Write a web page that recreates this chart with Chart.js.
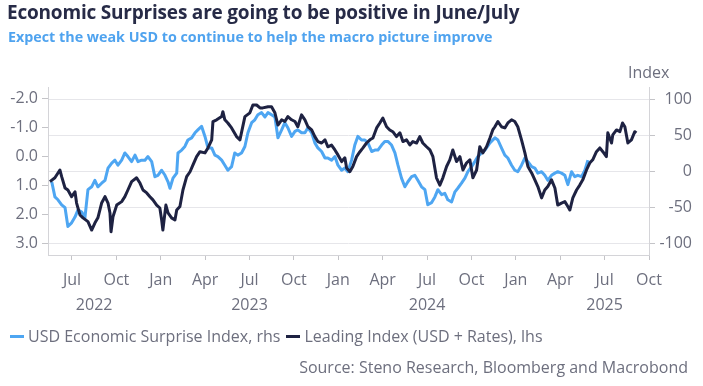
<!DOCTYPE html>
<html>
<head>
<meta charset="utf-8">
<script src="https://cdn.jsdelivr.net/npm/chart.js@4.4.1/dist/chart.umd.min.js"></script>
<style>
  html, body { margin: 0; padding: 0; background: #fff; }
  body { width: 703px; height: 386px; position: relative; overflow: hidden; font-family: "Open Sans", sans-serif; }
  #chart { position: absolute; left: 0; top: 0; }
  .txt { position: absolute; white-space: nowrap; line-height: 1; }
  #title { left: 7px; top: 3px; font-size: 19px; font-weight: 700; color: #272b47; letter-spacing: -0.2px; }
  #subtitle { left: 8px; top: 30px; font-size: 14.3px; font-weight: 700; color: #4fa3ef; }
  #unit { left: 628px; top: 64px; font-size: 16px; color: #6d6f7e; }
  #legend { left: 10px; top: 328px; font-size: 16px; color: #6d6f7e; display: flex; align-items: center; }
  #legend .mk { display: inline-block; width: 14px; height: 3px; margin-right: 4px; }
  #legend .item { display: flex; align-items: center; margin-right: 6px; }
  #source { right: 15px; top: 359px; font-size: 16px; color: #6d6f7e; }
</style>
</head>
<body>
<canvas id="chart" width="703" height="386"></canvas>
<div class="txt" id="title">Economic Surprises are going to be positive in June/July</div>
<div class="txt" id="subtitle">Expect the weak USD to continue to help the macro picture improve</div>
<div class="txt" id="unit">Index</div>
<div class="txt" id="legend"></div>
<div class="txt" id="source">Source: Steno Research, Bloomberg and Macrobond</div>
<script>
// Leading Index (USD + Rates), lhs - x in decimal years
const leadingDates = [
  2022.376, 2022.404, 2022.432, 2022.442, 2022.461, 2022.477, 2022.498, 2022.517, 2022.526, 2022.545,
  2022.562, 2022.590, 2022.611, 2022.629, 2022.646, 2022.667, 2022.686, 2022.703, 2022.714, 2022.720,
  2022.731, 2022.752, 2022.780, 2022.798, 2022.815, 2022.836, 2022.864, 2022.883, 2022.900, 2022.921,
  2022.939, 2022.956, 2022.977, 2022.995, 2023.005, 2023.012, 2023.029, 2023.041, 2023.061, 2023.080,
  2023.090, 2023.108, 2023.125, 2023.146, 2023.165, 2023.181, 2023.202, 2023.221, 2023.249, 2023.266,
  2023.287, 2023.294, 2023.315, 2023.343, 2023.350, 2023.361, 2023.378, 2023.399, 2023.427, 2023.446,
  2023.456, 2023.474, 2023.502, 2023.519, 2023.540, 2023.559, 2023.575, 2023.604, 2023.624, 2023.643,
  2023.660, 2023.681, 2023.699, 2023.716, 2023.737, 2023.756, 2023.772, 2023.793, 2023.812, 2023.829,
  2023.850, 2023.868, 2023.885, 2023.906, 2023.925, 2023.941, 2023.962, 2023.981, 2023.998, 2024.019,
  2024.037, 2024.047, 2024.065, 2024.082, 2024.103, 2024.122, 2024.139, 2024.159, 2024.178, 2024.195,
  2024.216, 2024.234, 2024.251, 2024.272, 2024.290, 2024.307, 2024.328, 2024.347, 2024.364, 2024.384,
  2024.403, 2024.420, 2024.441, 2024.459, 2024.476, 2024.497, 2024.516, 2024.533, 2024.553, 2024.572,
  2024.589, 2024.610, 2024.628, 2024.645, 2024.666, 2024.685, 2024.702, 2024.722, 2024.741, 2024.758,
  2024.779, 2024.797, 2024.814, 2024.835, 2024.854, 2024.870, 2024.882, 2024.899, 2024.919, 2024.938,
  2024.955, 2024.976, 2024.994, 2025.011, 2025.032, 2025.051, 2025.068, 2025.089, 2025.107, 2025.124,
  2025.145, 2025.163, 2025.180, 2025.201, 2025.220, 2025.236, 2025.257, 2025.276, 2025.293, 2025.304,
  2025.321, 2025.342, 2025.360, 2025.377, 2025.398, 2025.416, 2025.433, 2025.454, 2025.473, 2025.490,
  2025.510, 2025.518, 2025.539, 2025.546, 2025.567, 2025.586, 2025.601, 2025.614, 2025.631, 2025.651,
  2025.670, 2025.679
];
const leadingValues = [
  0.86, 0.73, 0.46, 0.69, 1.08, 1.15, 1.38, 1.21, 1.60, 2.01,
  2.11, 2.24, 2.53, 2.29, 2.11, 1.60, 1.38, 1.60, 1.94, 2.59,
  2.07, 1.67, 1.55, 1.38, 1.15, 0.86, 0.73, 0.91, 1.15, 1.25,
  1.38, 1.49, 1.67, 1.77, 2.18, 2.53, 1.67, 1.94, 2.11, 2.18,
  1.84, 1.72, 1.15, 0.69, 0.52, 0.29, 0.00, -0.17, -0.13, -0.30,
  -0.58, -1.21, -1.27, -1.38, -1.55, -1.27, -1.16, -0.99, -0.69, -0.58,
  -0.86, -1.38, -1.51, -1.78, -1.78, -1.68, -1.68, -1.72, -1.72, -1.51,
  -1.09, -1.27, -1.21, -1.38, -1.27, -1.21, -1.03, -1.44, -1.27, -1.03,
  -0.92, -0.69, -0.52, -0.47, -0.58, -0.34, -0.40, -0.23, -0.06, 0.17,
  0.04, 0.39, 0.52, 0.34, 0.00, -0.17, -0.30, -0.47, -0.58, -0.64,
  -0.99, -1.16, -1.33, -1.03, -0.92, -0.86, -0.69, -0.82, -0.52, -0.58,
  -0.40, -0.52, -0.47, -0.69, -0.47, -0.34, -0.23, 0.00, 0.73, 0.98,
  0.73, 0.34, 0.11, -0.23, 0.17, 0.00, 0.46, 0.22, 0.11, 0.73,
  0.46, -0.34, -0.13, -0.34, -0.64, -0.92, -1.03, -1.21, -1.03, -0.99,
  -1.16, -1.27, -1.21, -1.03, -0.58, -0.13, 0.34, 0.56, 0.80, 1.03,
  1.42, 1.15, 1.03, 0.80, 1.08, 1.67, 1.60, 1.55, 1.72, 1.84,
  1.42, 1.15, 0.98, 0.80, 0.46, 0.22, 0.11, -0.17, -0.30, -0.17,
  0.00, -0.82, -0.47, -0.75, -0.92, -0.86, -1.16, -1.03, -0.47, -0.58,
  -0.86, -0.82
];

// USD Economic Surprise Index, rhs
const surpriseDates = [
  2022.386, 2022.404, 2022.421, 2022.442, 2022.461, 2022.477, 2022.498, 2022.517, 2022.534, 2022.555,
  2022.573, 2022.590, 2022.611, 2022.629, 2022.646, 2022.667, 2022.686, 2022.703, 2022.724, 2022.742,
  2022.759, 2022.780, 2022.798, 2022.815, 2022.836, 2022.855, 2022.872, 2022.892, 2022.911, 2022.928,
  2022.949, 2022.967, 2022.984, 2023.005, 2023.024, 2023.041, 2023.052, 2023.069, 2023.090, 2023.097,
  2023.118, 2023.136, 2023.153, 2023.174, 2023.193, 2023.209, 2023.230, 2023.249, 2023.266, 2023.287,
  2023.305, 2023.322, 2023.343, 2023.361, 2023.378, 2023.399, 2023.417, 2023.434, 2023.455, 2023.474,
  2023.491, 2023.512, 2023.530, 2023.547, 2023.568, 2023.587, 2023.604, 2023.624, 2023.643, 2023.660,
  2023.681, 2023.699, 2023.716, 2023.737, 2023.756, 2023.772, 2023.793, 2023.812, 2023.829, 2023.850,
  2023.868, 2023.885, 2023.906, 2023.925, 2023.941, 2023.962, 2023.981, 2023.998, 2024.019, 2024.037,
  2024.054, 2024.075, 2024.093, 2024.110, 2024.131, 2024.150, 2024.167, 2024.188, 2024.206, 2024.223,
  2024.244, 2024.262, 2024.279, 2024.300, 2024.319, 2024.336, 2024.356, 2024.375, 2024.392, 2024.413,
  2024.431, 2024.448, 2024.469, 2024.488, 2024.504, 2024.525, 2024.544, 2024.561, 2024.582, 2024.600,
  2024.617, 2024.638, 2024.657, 2024.673, 2024.694, 2024.713, 2024.730, 2024.751, 2024.769, 2024.786,
  2024.807, 2024.826, 2024.854, 2024.882, 2024.899, 2024.919, 2024.938, 2024.955, 2024.976, 2024.994,
  2025.011, 2025.032, 2025.051, 2025.068, 2025.089, 2025.107, 2025.124, 2025.145, 2025.163, 2025.180,
  2025.201, 2025.220, 2025.236, 2025.257, 2025.276, 2025.293, 2025.314, 2025.332, 2025.349, 2025.370,
  2025.389, 2025.406
];
const surpriseValues = [
  -14, -35, -39, -46, -50, -76, -71, -63, -53, -56,
  -64, -25, -21, -12, -21, -16, -12, 5, 12, 16,
  9, 16, 26, 21, 14, 23, 14, 16, 16, 21,
  14, -7, -5, 2, -5, -14, -23, -9, -2, 26,
  30, 35, 44, 47, 54, 58, 63, 49, 33, 33,
  23, 21, 16, 9, 2, 7, 26, 23, 26, 35,
  54, 68, 72, 79, 82, 76, 82, 79, 76, 47,
  58, 68, 61, 49, 56, 58, 54, 54, 61, 54,
  40, 33, 28, 19, 19, 16, 21, 9, 2, 5,
  0, 16, 37, 49, 44, 44, 40, 28, 30, 30,
  37, 42, 42, 37, 26, 9, -9, -21, -14, -7,
  -5, -12, -21, -25, -46, -43, -35, -25, -32, -30,
  -39, -42, -28, -23, -16, -9, 0, 7, 14, 21,
  26, 30, 40, 47, 44, 33, 23, 19, 9, 2,
  0, 9, 19, 14, 7, 5, -2, 0, -5, -12,
  -5, -2, 0, -2, -5, -18, 0, -7, -5, -7,
  2, 16
];

// Axes
const quarterTicks = [2022.5, 2022.75, 2023, 2023.25, 2023.5, 2023.75, 2024, 2024.25, 2024.5, 2024.75, 2025, 2025.25, 2025.5, 2025.75];
const quarterNames = ['Jan', 'Apr', 'Jul', 'Oct'];
const yearLabels = { 2022.625: '2022', 2023.5: '2023', 2024.5: '2024', 2025.5: '2025' };
const leftTicks = [-2, -1.5, -1, -0.5, 0, 0.5, 1, 1.5, 2, 2.5, 3];
const rightTicks = [-100, -75, -50, -25, 0, 25, 50, 75, 100];

const surpriseColor = '#4ea6f2';
const leadingColor = '#1e2242';
const textColor = '#6d6f7e';

const toPoints = (xs, ys) => xs.map((x, i) => ({ x: x, y: ys[i] }));

const xTickValues = [...new Set([...quarterTicks, ...Object.keys(yearLabels).map(Number)])].sort((a, b) => a - b);

new Chart(document.getElementById('chart'), {
  type: 'line',
  data: {
    datasets: [
      {
        label: 'Leading Index (USD + Rates), lhs',
        data: toPoints(leadingDates, leadingValues),
        yAxisID: 'yL',
        borderColor: leadingColor,
        borderWidth: 3,
        pointRadius: 0,
        borderJoinStyle: 'round'
      },
      {
        label: 'USD Economic Surprise Index, rhs',
        data: toPoints(surpriseDates, surpriseValues),
        yAxisID: 'yR',
        borderColor: surpriseColor,
        borderWidth: 3,
        pointRadius: 0,
        borderJoinStyle: 'round'
      }
    ]
  },
  options: {
    responsive: false,
    animation: false,
    layout: { padding: { top: 87, right: 11, left: 0, bottom: 0 } },
    plugins: { legend: { display: false }, tooltip: { enabled: false } },
    scales: {
      x: {
        type: 'linear',
        min: 2022.365,
        max: 2025.75,
        afterFit: s => { s.height = 131; },
        afterBuildTicks: s => { s.ticks = xTickValues.map(v => ({ value: v })); },
        border: { color: '#d4d4d8' },
        grid: {
          drawOnChartArea: false,
          tickLength: 5,
          tickColor: ctx => (ctx.tick && quarterTicks.includes(ctx.tick.value)) ? '#c4c4c8' : 'rgba(0,0,0,0)'
        },
        ticks: {
          autoSkip: false,
          maxRotation: 0,
          padding: 8,
          color: textColor,
          font: { family: 'Open Sans', size: 16, lineHeight: 1.56 },
          callback: v => {
            const q = quarterTicks.includes(v) ? quarterNames[Math.round((v % 1) * 4)] : '';
            return yearLabels[v] ? [q, yearLabels[v]] : q;
          }
        }
      },
      yL: {
        position: 'left',
        reverse: true,
        min: -2.40,
        max: 3.39,
        afterFit: s => { s.width = 48; },
        afterBuildTicks: s => { s.ticks = leftTicks.map(v => ({ value: v })); },
        border: { color: '#d4d4d8' },
        grid: { drawOnChartArea: false, tickLength: 6, tickColor: '#c4c4c8' },
        ticks: {
          padding: 4,
          color: textColor,
          font: { family: 'Open Sans', size: 16 },
          callback: v => Number.isInteger(v) ? v.toFixed(1) : ''
        }
      },
      yR: {
        position: 'right',
        min: -115.7,
        max: 117.6,
        afterFit: s => { s.width = 43; },
        afterBuildTicks: s => { s.ticks = rightTicks.map(v => ({ value: v })); },
        border: { color: '#d4d4d8' },
        grid: { color: '#e6e6ea', tickLength: 6, tickColor: '#c4c4c8' },
        ticks: {
          crossAlign: 'far',
          color: textColor,
          font: { family: 'Open Sans', size: 16 },
          callback: v => v % 50 === 0 ? String(v) : ''
        }
      }
    }
  }
});

// legend in the reference order
const legendItems = [
  { label: 'USD Economic Surprise Index, rhs', color: surpriseColor },
  { label: 'Leading Index (USD + Rates), lhs', color: leadingColor }
];
document.getElementById('legend').innerHTML = legendItems.map(it =>
  `<span class="item"><span class="mk" style="background:${it.color}"></span>${it.label}</span>`
).join('');
</script>
</body>
</html>
